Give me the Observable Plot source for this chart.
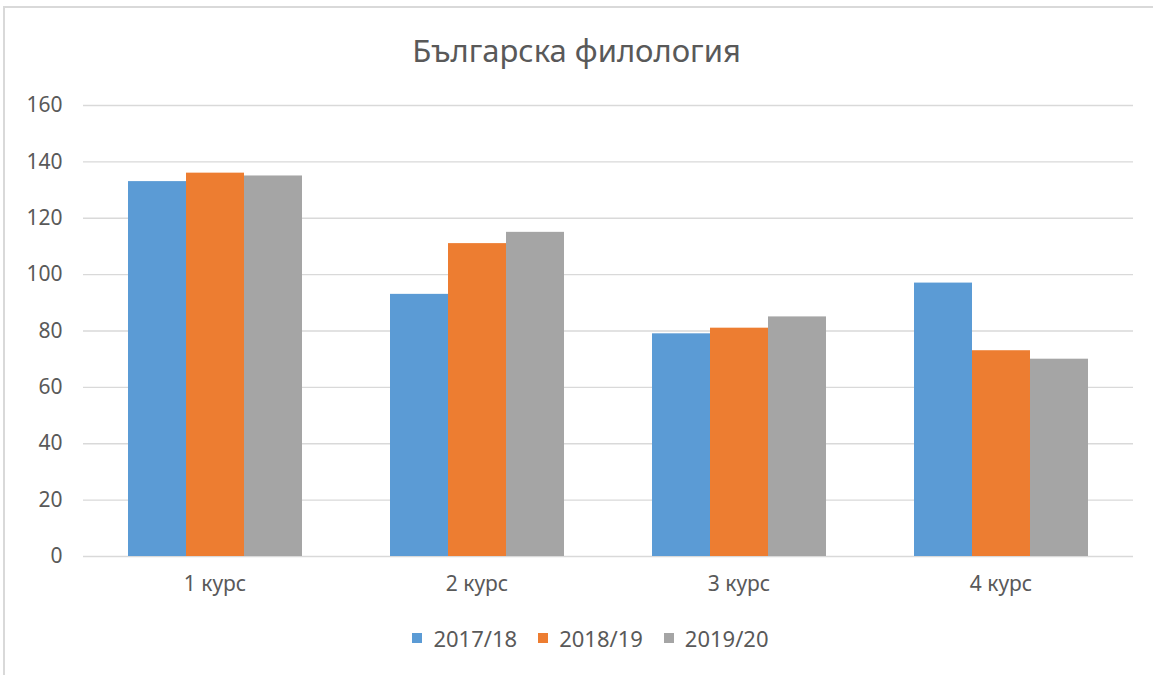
<!DOCTYPE html>
<html>
<head>
<meta charset="utf-8">
<script src="https://cdn.jsdelivr.net/npm/d3@7"></script>
<script src="https://cdn.jsdelivr.net/npm/@observablehq/plot@0.6"></script>
<style>
  html, body { margin: 0; padding: 0; background: #fff; }
  #frame {
    position: absolute; left: 3px; top: 6px; width: 1160px; height: 680px;
    border-top: 2px solid #d9d9d9; border-left: 2px solid #d9d9d9;
    box-sizing: border-box;
  }
  #title {
    position: absolute; left: 0; top: 29px; width: 1153px; text-align: center;
    font-family: "Noto Sans", sans-serif; font-size: 31px; color: #595959;
  }
  .layer { position: absolute; left: 0; top: 90px; }
  #legend {
    position: absolute; left: 0; top: 623px; width: 1153px; padding-left: 28px;
    box-sizing: border-box;
    display: flex; justify-content: center; gap: 21px;
    font-family: "Noto Sans", sans-serif; font-size: 22px; color: #595959;
  }
  .item { display: flex; align-items: center; gap: 11px; }
  .sw { width: 10px; height: 10px; display: inline-block; }
</style>
</head>
<body>
<div id="frame"></div>
<div id="title">Българска филология</div>
<div id="grid" class="layer"></div>
<div id="bars" class="layer"></div>
<div id="legend"></div>
<script>
const courses = ["1 курс", "2 курс", "3 курс", "4 курс"];
const years = ["2017/18", "2018/19", "2019/20"];
const values2017 = [133, 93, 79, 97];
const values2018 = [136, 111, 81, 73];
const values2019 = [135, 115, 85, 70];
const colors = ["#5B9BD5", "#ED7D31", "#A5A5A5"];
const yTicks = [0, 20, 40, 60, 80, 100, 120, 140, 160];

const seriesValues = [values2017, values2018, values2019];
const data = [];
courses.forEach((c, i) => {
  years.forEach((y, j) => {
    data.push({course: c, year: y, value: seriesValues[j][i]});
  });
});

const common = {
  width: 1153,
  height: 520,
  marginLeft: 83,
  marginRight: 20,
  marginTop: 15,
  marginBottom: 54
};

// Layer 1: y axis and full-width gridlines
const gridPlot = Plot.plot({
  ...common,
  style: {fontFamily: "Noto Sans, sans-serif", fontSize: "21px", color: "#595959", background: "transparent"},
  y: {domain: [0, 160], ticks: yTicks, label: null, tickSize: 0, tickPadding: 21},
  marks: [
    Plot.ruleY(yTicks, {stroke: "#d9d9d9", strokeWidth: 1.3})
  ]
});
document.getElementById("grid").appendChild(gridPlot);

// Layer 2: grouped bars and category axis
const barPlot = Plot.plot({
  ...common,
  style: {fontFamily: "Noto Sans, sans-serif", fontSize: "21px", color: "#595959", background: "transparent"},
  fx: {domain: courses, paddingInner: 0.332, paddingOuter: 0.166, label: null, tickSize: 0, tickPadding: 20, axis: "bottom"},
  x: {domain: years, axis: null, padding: 0},
  y: {domain: [0, 160], axis: null},
  color: {domain: years, range: colors},
  marks: [
    Plot.barY(data, {fx: "course", x: "year", y: "value", fill: "year"})
  ]
});
document.getElementById("bars").appendChild(barPlot);

const legend = document.getElementById("legend");
years.forEach((y, j) => {
  const it = document.createElement("div");
  it.className = "item";
  const sw = document.createElement("span");
  sw.className = "sw";
  sw.style.background = colors[j];
  const t = document.createElement("span");
  t.textContent = y;
  it.appendChild(sw);
  it.appendChild(t);
  legend.appendChild(it);
});
</script>
</body>
</html>
